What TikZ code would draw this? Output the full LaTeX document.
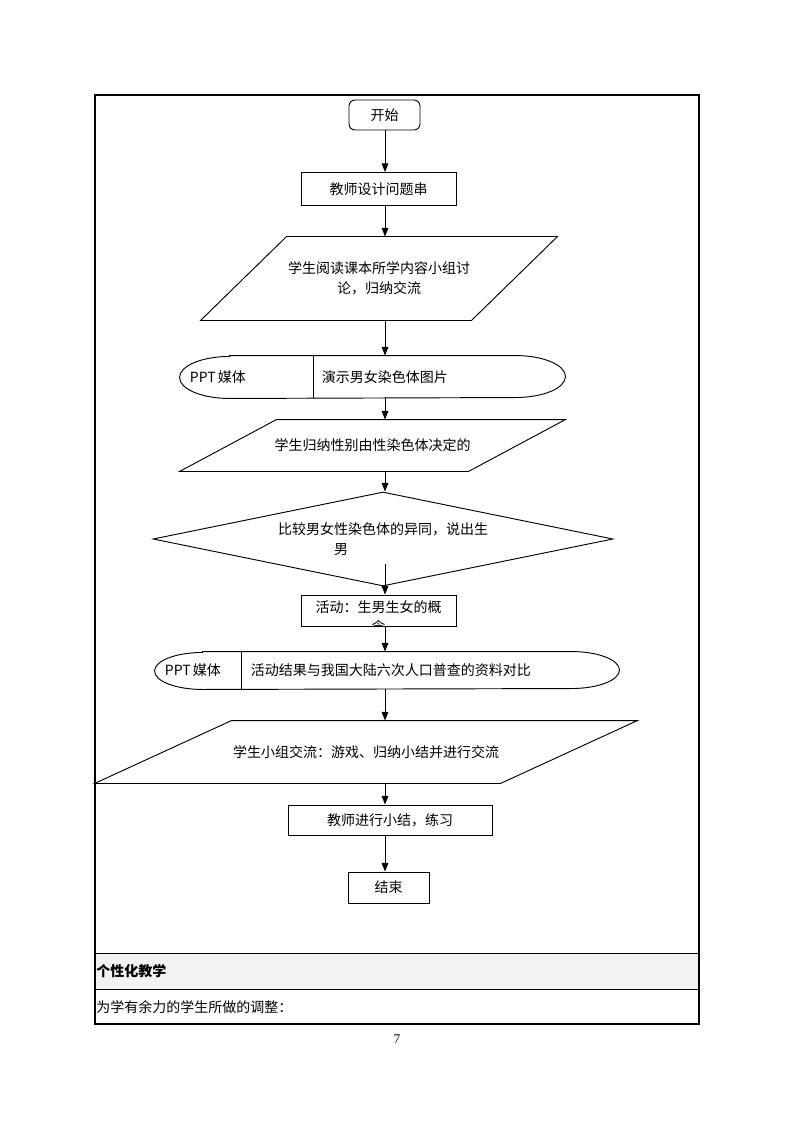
\documentclass[tikz,border=0pt]{standalone}
\usepackage{fontspec}
\setmainfont{Noto Sans CJK SC}
\newfontfamily\pagenumfont{Liberation Serif}
\usetikzlibrary{calc, shapes.geometric, arrows.meta}
\definecolor{rowgray}{HTML}{F2F2F2}
\tikzset{every node/.style = {font=\fontsize{10.5pt}{15pt}\selectfont}}
\tikzset{block/.style = {draw, rectangle, inner sep=0, align=center}}
\tikzset{para/.style = {rectangle, inner sep=0, align=center}}
\tikzset{media/.style = {rectangle, inner sep=0}}
\tikzset{decide/.style = {draw, diamond, shape aspect=4.9, inner sep=0, align=left}}
\tikzset{flow/.style = {-{Triangle[length=6.5pt, width=5pt]}}}

\begin{document}
\begin{tikzpicture}[x=0.75pt, y=0.75pt, line width=0.7pt]
			\useasboundingbox (0,0) rectangle (794,-1123);
			\coordinate (spine) at (385,0);
			% Start
			\node [block, rounded corners=4.5pt, minimum width=53.25pt, minimum height=22.5pt] (start) at (384.5,-115) {开始};
			% Teacher designs questions
			\node [block, minimum width=116.25pt, minimum height=24.75pt] (design) at (378.5,-189) {教师设计问题串};
			\draw[flow] (spine |- start.south) -- (spine |- design.north);
			% Students read
			\node [para, minimum width=267pt, minimum height=62.25pt] (read) at (379,-278.5) {学生阅读课本所学内容小组讨\\论，归纳交流};
			\draw ($(read.north west)+(86,0)$) -- (read.north east) -- ($(read.south east)-(86,0)$) -- (read.south west) -- cycle;
			\draw[flow] (spine |- design.south) -- (spine |- read.north);

			% PPT media 1
			\node [media, minimum width=288.75pt, minimum height=31.5pt] (show1) at (372.5,-377) {};
			\draw ($(show1.north west)+(50,0)$) -- ($(show1.north east)-(50,0)$) arc[start angle=90, end angle=-90, x radius=50, y radius=21] -- ($(show1.south west)+(50,0)$) arc[start angle=270, end angle=90, x radius=50, y radius=21] -- cycle;
			\coordinate (cut1) at (313,-377);
			\draw (cut1 |- show1.north) -- (cut1 |- show1.south);
			\node [anchor=west] (tag1) at (185,-377) {PPT\,媒体};
			\node [anchor=west] (show1-text) at (317,-377) {演示男女染色体图片};
			\draw[flow] (spine |- read.south) -- (spine |- show1.north);
			% Students conclude
			\node [para, minimum width=288.75pt, minimum height=38.25pt] (sum-up) at (372.5,-445.5) {学生归纳性别由性染色体决定的};
			\draw ($(sum-up.north west)+(97,0)$) -- (sum-up.north east) -- ($(sum-up.south east)-(97,0)$) -- (sum-up.south west) -- cycle;
			\draw[flow] (spine |- show1.south) -- (spine |- sum-up.north);

			% Compare
			\node [decide, minimum width=345pt, minimum height=70.5pt] (compare) at (383,-539) {比较男女性染色体的异同，说出生\\\hspace*{42pt}男};
			\draw[flow] (spine |- sum-up.south) -- (spine |- compare.north);
			% Activity
			\node [block, minimum width=116.25pt, minimum height=23.25pt] (act) at (378.5,-610.5) {};
			\begin{scope}
				\clip (act.south west) rectangle (act.north east);
				\node [anchor=north, align=center, inner sep=0] (act-text) at ($(act.north)+(0,-6)$) {活动：生男生女的概\\念};
			\end{scope}
			\draw[flow] ($(spine |- compare.south)+(0,22)$) -- (spine |- act.north);

			% PPT media 2
			\node [media, minimum width=348pt, minimum height=27.75pt] (show2) at (387,-670.5) {};
			\draw ($(show2.north west)+(48,0)$) -- ($(show2.north east)-(48,0)$) arc[start angle=90, end angle=-90, x radius=48, y radius=18.5] -- ($(show2.south west)+(48,0)$) arc[start angle=270, end angle=90, x radius=48, y radius=18.5] -- cycle;
			\coordinate (cut2) at (241,-670.5);
			\draw (cut2 |- show2.north) -- (cut2 |- show2.south);
			\node [anchor=west] (tag2) at (160,-670.5) {PPT\,媒体};
			\node [anchor=west] (show2-text) at (246,-670.5) {活动结果与我国大陆六次人口普查的资料对比};
			\draw[flow] (spine |- act.south) -- (spine |- show2.north);
			% Group exchange
			\node [para, minimum width=406.5pt, minimum height=46.5pt] (group) at (366,-752) {学生小组交流：游戏、归纳小结并进行交流};
			\draw ($(group.north west)+(137,0)$) -- (group.north east) -- ($(group.south east)-(137,0)$) -- (group.south west) -- cycle;
			\draw[flow] (spine |- show2.south) -- (spine |- group.north);

			% Teacher summary
			\node [block, minimum width=153pt, minimum height=22.5pt] (summary) at (390,-820) {教师进行小结，练习};
			\draw[flow] (spine |- group.south) -- (spine |- summary.north);
			% End
			\node [block, minimum width=60.75pt, minimum height=23.25pt] (end) at (388.5,-887.5) {结束};
			\draw[flow] (spine |- summary.south) -- (spine |- end.north);

			% Table rows
			\fill[rowgray] (94.5,-953) rectangle (699,-989);
			\draw (94.5,-953) -- (699,-953);
			\draw (94.5,-989) -- (699,-989);
			\draw[line width=1.5pt] (94.5,-95) rectangle (699,-1024);
			\node [anchor=west, inner sep=0, font=\fontsize{10.5pt}{12pt}\selectfont\bfseries] (personal) at (96,-971) {个性化教学};
			\node [anchor=west, inner sep=0] (adjust) at (96,-1007) {为学有余力的学生所做的调整：};
			% Page number
			\node [font=\pagenumfont\fontsize{10pt}{12pt}\selectfont] (pagenum) at (397,-1039) {7};
		\end{tikzpicture}
\end{document}
